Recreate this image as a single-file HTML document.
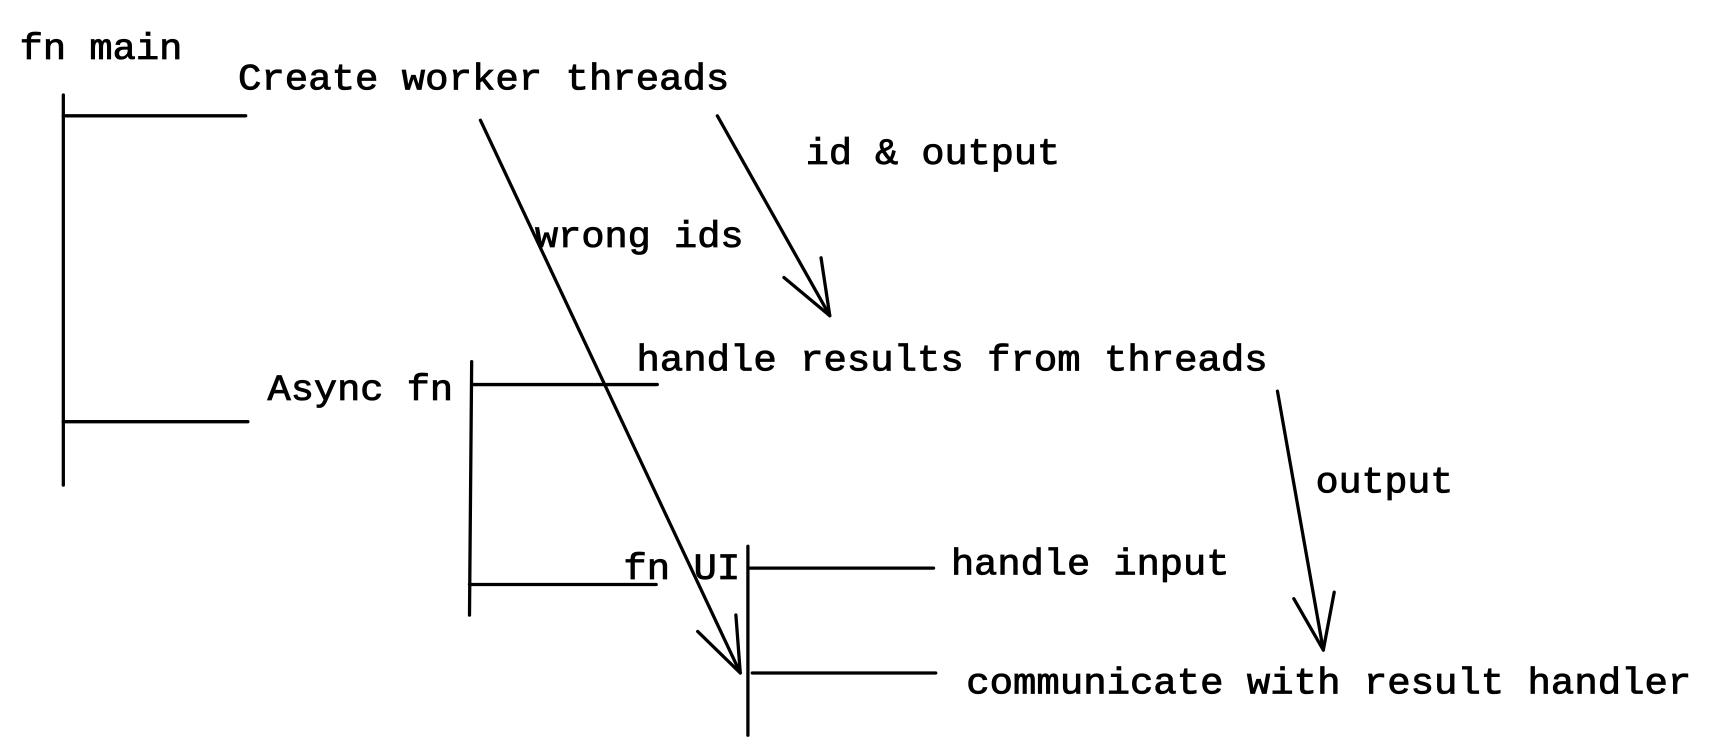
<!DOCTYPE html>
<html><head><style>html,body{margin:0;padding:0;background:#fff}svg{display:block}</style></head>
<body>
<svg width="1712" height="756" viewBox="0 0 1568 692" preserveAspectRatio="none" xmlns="http://www.w3.org/2000/svg">
<g stroke="#000" stroke-width="3" fill="none" stroke-linecap="round" stroke-linejoin="round">
<line x1="58" y1="87" x2="58" y2="444"/>
<line x1="58" y1="106" x2="225" y2="106"/>
<line x1="58" y1="386" x2="227" y2="386"/>
<line x1="432" y1="331" x2="430" y2="563"/>
<line x1="432" y1="352" x2="602" y2="352"/>
<line x1="430" y1="535" x2="601" y2="535"/>
<line x1="685" y1="500" x2="685" y2="673"/>
<line x1="687" y1="520" x2="855" y2="520"/>
<line x1="689" y1="616" x2="857" y2="616"/>
<line x1="440" y1="110" x2="678" y2="616"/>
<polyline points="639,578 678,616 674,563"/>
<line x1="657" y1="106" x2="760" y2="289"/>
<polyline points="718,254 760,289 752,236"/>
<line x1="1170" y1="358" x2="1212" y2="595"/>
<polyline points="1185,548 1212,595 1222,542"/>
</g>
<g font-family="Liberation Mono, monospace" font-size="34" fill="#000" stroke="#000" stroke-width="0.8">
<text x="18" y="54" textLength="149" lengthAdjust="spacingAndGlyphs">fn main</text>
<text x="218" y="82" textLength="450" lengthAdjust="spacingAndGlyphs">Create worker threads</text>
<text x="738" y="150" textLength="233" lengthAdjust="spacingAndGlyphs">id &amp; output</text>
<text x="490" y="226" textLength="191" lengthAdjust="spacingAndGlyphs">wrong ids</text>
<text x="583" y="339" textLength="578" lengthAdjust="spacingAndGlyphs">handle results from threads</text>
<text x="245" y="366" textLength="170" lengthAdjust="spacingAndGlyphs">Async fn</text>
<text x="1205" y="451" textLength="126" lengthAdjust="spacingAndGlyphs">output</text>
<text x="871" y="526" textLength="255" lengthAdjust="spacingAndGlyphs">handle input</text>
<text x="571" y="530" textLength="107" lengthAdjust="spacingAndGlyphs">fn UI</text>
<text x="885" y="635" textLength="664" lengthAdjust="spacingAndGlyphs">communicate with result handler</text>
</g>
</svg>
</body></html>
